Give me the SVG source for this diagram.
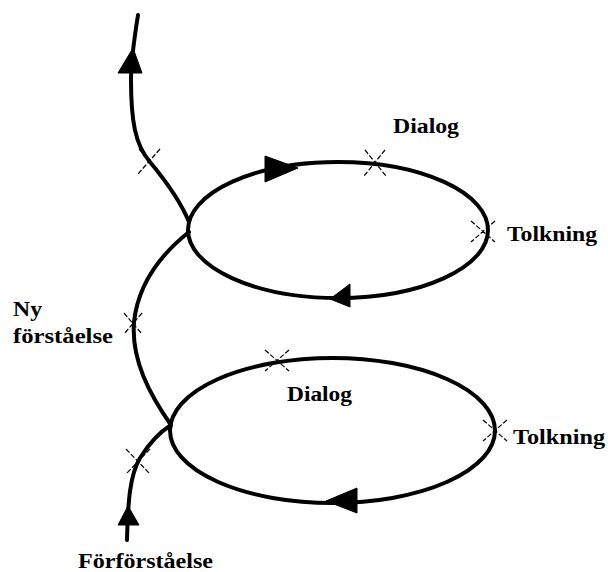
<svg xmlns="http://www.w3.org/2000/svg" width="608" height="572" viewBox="0 0 608 572">
<style>
.ln{fill:none;stroke:#000;stroke-width:4;stroke-linecap:round}
.ar{fill:#000;stroke:#000;stroke-width:1}
.st{stroke:#000;stroke-width:1.2;stroke-dasharray:5 2;fill:none}
.t{font-family:"Liberation Serif","DejaVu Serif",serif;font-weight:bold;font-size:20px;fill:#000}
</style>
<rect width="608" height="572" fill="#fff"/>
<g id="connectors">
<ellipse class="ln" cx="338" cy="230" rx="150" ry="68"/>
<ellipse class="ln" cx="332.5" cy="430.5" rx="162.5" ry="72.5"/>
<path class="ln" d="M138,15 C134,40 131,60 131,80 C131,120 135,145 150,162 C165,180 180,200 189,222"/>
<path class="ln" d="M189,232 C160,255 138,285 134,322 C131,360 150,395 171,425"/>
<path class="ln" d="M127,540 C128,500 130,475 140,458 C150,442 160,432 171,425"/>
<polygon class="ar" points="133,48 118,73 142,73"/>
<polygon class="ar" points="128,506 118,525 139,525"/>
<polygon class="ar" points="265,156 265,182 298,168"/>
<polygon class="ar" points="330,299 350,284 350,307"/>
<polygon class="ar" points="326,501 357,488 357,513"/>
</g>
<g id="star-top"><path class="st" d="M139,149 L161,174 M160,149 L138,174"/></g>
<g id="dialog-1"><path class="st" d="M365,150 L386,176 M385,150 L364,176"/><text class="t" x="393" y="133" textLength="66" lengthAdjust="spacingAndGlyphs">Dialog</text></g>
<g id="tolkning-1"><path class="st" d="M471,221 L495,242 M495,221 L471,242"/><text class="t" x="507" y="241" textLength="90" lengthAdjust="spacingAndGlyphs">Tolkning</text></g>
<g id="ny-forstaelse"><path class="st" d="M124,313 L142,334 M142,313 L124,334"/><text class="t" x="13" y="316" textLength="29" lengthAdjust="spacingAndGlyphs">Ny</text><text class="t" x="13" y="343" textLength="100" lengthAdjust="spacingAndGlyphs">förståelse</text></g>
<g id="dialog-2"><path class="st" d="M265,350 L289,371 M289,350 L265,371"/><text class="t" x="287" y="401" textLength="65" lengthAdjust="spacingAndGlyphs">Dialog</text></g>
<g id="tolkning-2"><path class="st" d="M483,420 L507,441 M507,420 L483,441"/><text class="t" x="513" y="444" textLength="92" lengthAdjust="spacingAndGlyphs">Tolkning</text></g>
<g id="forforstaelse"><path class="st" d="M126,449 L150,474 M150,449 L126,474"/><text class="t" x="78" y="568" textLength="135" lengthAdjust="spacingAndGlyphs">Förförståelse</text></g>
</svg>
